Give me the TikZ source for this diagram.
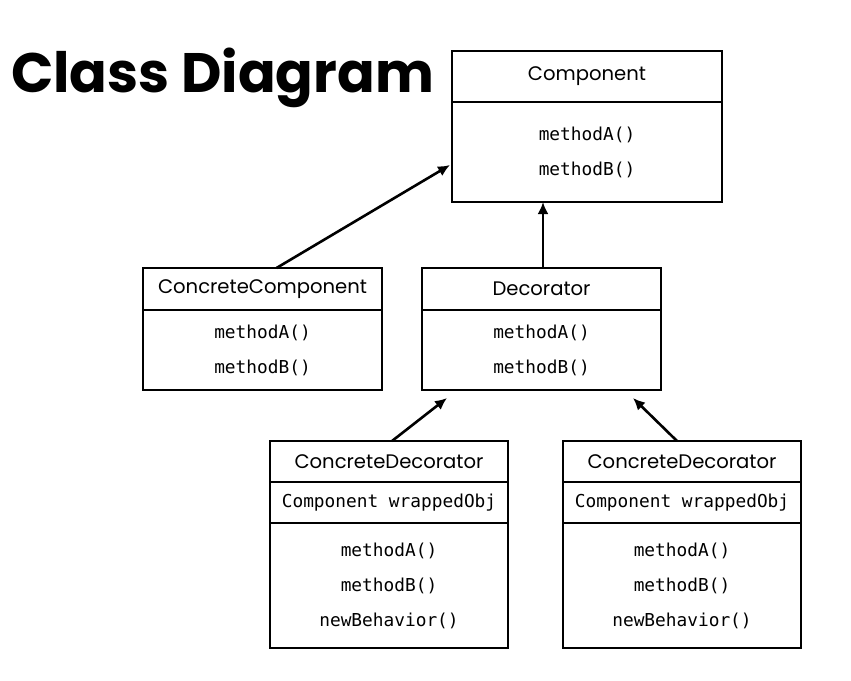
\documentclass[tikz,border=0pt]{standalone}
\usepackage{fontspec}
\newfontfamily\headfont{Poppins}
\newfontfamily\codefont{DejaVu Sans Mono}
\usetikzlibrary{arrows.meta,positioning}
\tikzset{
  box/.style={draw, line width=1.4pt, outer sep=0pt, inner sep=0pt, minimum width=#1},
  head/.style={box=#1, font=\headfont\fontsize{9.8}{12}\selectfont},
  code/.style={box=#1, font=\codefont\fontsize{8.9}{17.5}\selectfont, align=center},
  inherit/.style={-{Latex[length=6pt,width=5.5pt]}, line width=1.3pt}
}
\begin{document}
\begin{tikzpicture}[x=0.5pt,y=-0.5pt]
      \useasboundingbox (0,0) rectangle (851,680);
      \node[anchor=base west, font=\headfont\bfseries\fontsize{27.8}{32}\selectfont] (title) at (4,92) {Class Diagram};
      % Component
      \node[head=135pt, minimum height=25.5pt] (comph) at (587,76.5) {Component};
      \node[code=135pt, minimum height=50pt, anchor=north] (compb) at (comph.south) {methodA()\\methodB()};
      % ConcreteComponent and Decorator
      \node[head=119.5pt, minimum height=21pt] (cch) at (262.5,289) {ConcreteComponent};
      \node[code=119.5pt, minimum height=40pt, anchor=north] (ccb) at (cch.south) {methodA()\\methodB()};
      \node[head=119.5pt, minimum height=21pt] (dech) at (541.5,289) {Decorator};
      \node[code=119.5pt, minimum height=40pt, anchor=north] (decb) at (dech.south) {methodA()\\methodB()};
      % ConcreteDecorators
      \node[head=119pt, minimum height=20.5pt] (cd1h) at (389,461.5) {ConcreteDecorator};
      \node[code=119pt, minimum height=20.5pt, anchor=north] (cd1f) at (cd1h.south) {Component wrappedObj};
      \node[code=119pt, minimum height=62.5pt, anchor=north] (cd1b) at (cd1f.south) {methodA()\\methodB()\\newBehavior()};
      \node[head=119pt, minimum height=20.5pt] (cd2h) at (682,461.5) {ConcreteDecorator};
      \node[code=119pt, minimum height=20.5pt, anchor=north] (cd2f) at (cd2h.south) {Component wrappedObj};
      \node[code=119pt, minimum height=62.5pt, anchor=north] (cd2b) at (cd2f.south) {methodA()\\methodB()\\newBehavior()};
      % inheritance arrows
      \draw[inherit] ([xshift=7pt]cch.north) -- ([xshift=-1pt,yshift=-6.5pt]compb.west);
      \draw[inherit] ([xshift=0.75pt]dech.north) -- ([xshift=0.75pt]dech.north |- compb.south);
      \draw[inherit] ([xshift=1.5pt]cd1h.north) -- ([xshift=12.5pt,yshift=-4pt]decb.south west);
      \draw[inherit] ([xshift=-2.5pt]cd2h.north) -- ([xshift=-14pt,yshift=-4pt]decb.south east);
\end{tikzpicture}
\end{document}
